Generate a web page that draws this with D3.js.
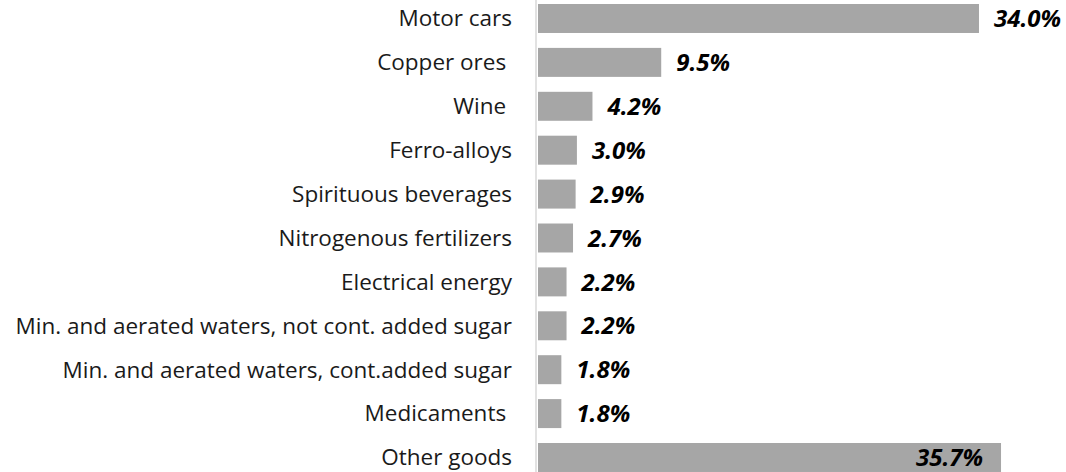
<!DOCTYPE html>
<html>
<head>
<meta charset="utf-8">
<script src="https://cdn.jsdelivr.net/npm/d3@7"></script>
<style>
  html, body { margin: 0; padding: 0; background: #fff; }
  svg { display: block; }
</style>
</head>
<body>
<svg id="chart" width="1066" height="472"></svg>
<script>
// Share of exports by product group (%)
const categories = [
  "Motor cars",
  "Copper ores ",
  "Wine ",
  "Ferro-alloys",
  "Spirituous beverages",
  "Nitrogenous fertilizers",
  "Electrical energy",
  "Min. and aerated waters, not cont. added sugar",
  "Min. and aerated waters, cont.added sugar",
  "Medicaments ",
  "Other goods"
];
const shares = [34.0, 9.5, 4.2, 3.0, 2.9, 2.7, 2.2, 2.2, 1.8, 1.8, 35.7];
const valueLabels = ["34.0%", "9.5%", "4.2%", "3.0%", "2.9%", "2.7%", "2.2%", "2.2%", "1.8%", "1.8%", "35.7%"];

const data = categories.map((c, i) => ({ category: c, value: shares[i], label: valueLabels[i] }));

const svg = d3.select("#chart");
const width = 1066, height = 472;
const x0 = 538;

const x = d3.scaleLinear().domain([0, 1]).range([x0, x0 + 12.97]);

const y = d3.scaleBand()
  .domain(categories)
  .range([-3.46, -3.46 + 43.9 * 11])
  .paddingInner(0.34)
  .paddingOuter(0.17);

// Bars
svg.append("g")
  .selectAll("rect")
  .data(data)
  .join("rect")
  .attr("x", x(0))
  .attr("y", d => y(d.category))
  .attr("width", d => x(d.value) - x(0))
  .attr("height", y.bandwidth())
  .attr("fill", "#a6a6a6");

// Category axis line
svg.append("line")
  .attr("x1", 536).attr("x2", 536)
  .attr("y1", 0).attr("y2", height)
  .attr("stroke", "#d9d9d9")
  .attr("stroke-width", 1.5);

// Category labels
svg.append("g")
  .selectAll("text")
  .data(data)
  .join("text")
  .attr("x", 512)
  .attr("y", d => y(d.category) + y.bandwidth() / 2)
  .attr("dy", "0.35em")
  .attr("text-anchor", "end")
  .attr("xml:space", "preserve")
  .style("white-space", "pre")
  .attr("font-family", "'Open Sans', 'Noto Sans', sans-serif")
  .attr("font-size", 22.5)
  .attr("fill", "#1a1a1a")
  .text(d => d.category);

// Value labels: outside end, except the last which sits inside the bar end
const last = categories.length - 1;
svg.append("g")
  .selectAll("text")
  .data(data)
  .join("text")
  .attr("x", (d, i) => i === last ? x(d.value) - 18 : x(d.value) + 15)
  .attr("y", d => y(d.category) + y.bandwidth() / 2)
  .attr("dy", "0.36em")
  .attr("text-anchor", (d, i) => i === last ? "end" : "start")
  .attr("font-family", "'Open Sans', 'Noto Sans', sans-serif")
  .attr("font-size", 24)
  .attr("font-weight", "bold")
  .attr("font-style", "italic")
  .attr("fill", "#000")
  .text(d => d.label);
</script>
</body>
</html>
